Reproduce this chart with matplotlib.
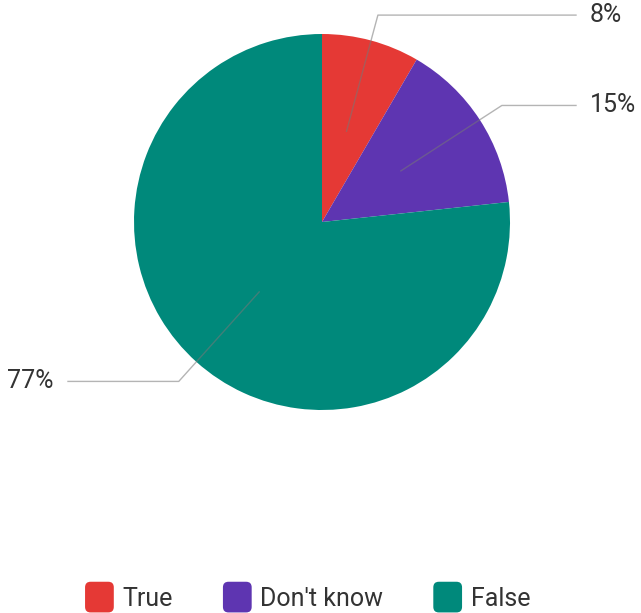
import matplotlib
matplotlib.use("Agg")
import numpy as np
from matplotlib import pyplot as plt
from matplotlib.patches import FancyBboxPatch, Patch
from matplotlib.legend_handler import HandlerPatch

labels = ["True", "Don't know", "False"]
shares = [8.4, 14.9, 76.7]
colors = ["#e53935", "#5e35b1", "#00897b"]

plt.rcParams["font.family"] = ["Roboto", "DejaVu Sans"]


def rounded_box(legend, orig_handle, xdescent, ydescent, width, height, fontsize):
    return FancyBboxPatch((-xdescent, -ydescent - 3), width, height + 6,
                          boxstyle="round,pad=0,rounding_size=4")


fig = plt.figure(figsize=(6.41, 6.13), dpi=100)
ax = fig.add_axes([0, 0, 1, 1])

# pie drawn in pixel-like data coords
cx, cy, r = 322, 391, 188
wedges, _ = ax.pie(shares, colors=colors, startangle=90, counterclock=False,
                   center=(cx, cy), radius=r, frame=True,
                   wedgeprops=dict(linewidth=0))
ax.set_xlim(0, 641)
ax.set_ylim(0, 613)
ax.set_aspect("auto")
ax.axis("off")

for w, s in zip(wedges, shares):
    ang = np.deg2rad((w.theta1 + w.theta2) / 2)
    x0, y0 = cx + 0.5 * r * np.cos(ang), cy + 0.5 * r * np.sin(ang)
    x1, y1 = cx + 1.14 * r * np.cos(ang), cy + 1.14 * r * np.sin(ang)
    right = np.cos(ang) > 0
    x2 = 576 if right else 68
    ax.plot([x0, x1, x2], [y0, y1, y1], color="#777777", lw=1, alpha=0.55)
    ax.text(x2 + 14 if right else x2 - 14, y1, f"{round(s)}%",
            ha="left" if right else "right", va="center",
            fontsize=18, color="#333333")

handles = [Patch(facecolor=c) for c in colors]
fig.legend(handles, labels, loc="center", bbox_to_anchor=(0.48, 0.024), ncol=3,
           frameon=False, fontsize=18, handlelength=1.15, handleheight=1.0,
           handletextpad=0.35, columnspacing=2.0, labelcolor="#333333",
           handler_map={Patch: HandlerPatch(patch_func=rounded_box)})

fig.savefig("out.png", dpi=100)
